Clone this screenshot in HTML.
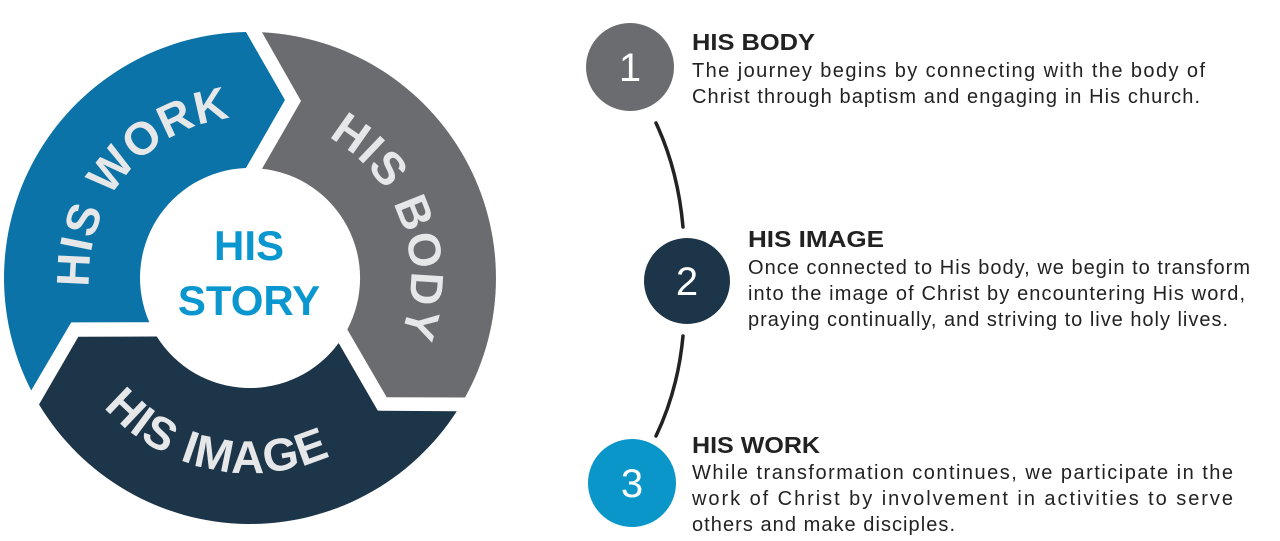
<!DOCTYPE html>
<html><head><meta charset="utf-8"><style>
html,body{margin:0;padding:0;background:#fff;overflow:hidden;width:1280px;height:541px;}
svg{display:block;}
</style></head><body>
<svg width="1280" height="541" viewBox="0 0 1280 541" xmlns="http://www.w3.org/2000/svg">
<defs>
<path id="seg" d="M12,-245.7 A246,246 0 0 1 215,119.5 L136.7,119.3 L97.3,51.5 A110,110 0 0 0 12,-109.3 L51,-177 Z"/>
<path id="pWork" d="M-151.3,55.1 A161,161 0 0 1 28,-158.6"/>
<path id="pBody" d="M28,-158.6 A161,161 0 0 1 123.3,103.5"/>
<path id="pImage" d="M-185.5,60.3 A195,195 0 0 0 144.9,130.5"/>
</defs>
<g transform="translate(250,278)">
<use href="#seg" fill="#6b6c70"/>
<use href="#seg" fill="#0b73a8" transform="rotate(-120)"/>
<use href="#seg" fill="#1d3549" transform="rotate(120)"/>
<g font-family="Liberation Sans, sans-serif" font-weight="bold" font-size="46" fill="#e6e7e8" letter-spacing="1">
<text text-anchor="middle"><textPath href="#pWork" startOffset="50%">HIS WORK</textPath></text>
<text text-anchor="middle"><textPath href="#pBody" startOffset="50%">HIS BODY</textPath></text>
<text text-anchor="middle"><textPath href="#pImage" startOffset="50%">HIS IMAGE</textPath></text>
</g>
<text x="-1" y="-18" text-anchor="middle" font-family="Liberation Sans, sans-serif" font-weight="bold" font-size="42" fill="#0a97cf">HIS</text>
<text x="-1" y="37" text-anchor="middle" font-family="Liberation Sans, sans-serif" font-weight="bold" font-size="42" fill="#0a97cf">STORY</text>
</g>

<path d="M656,123 Q678,170 683,227" stroke="#222" stroke-width="3.5" fill="none" stroke-linecap="round"/>
<path d="M683,336 Q678,390 656,436" stroke="#222" stroke-width="3.5" fill="none" stroke-linecap="round"/>

<circle cx="630" cy="67" r="44" fill="#6b6c70"/>
<circle cx="687" cy="281" r="43" fill="#1d3549"/>
<circle cx="632" cy="483" r="44" fill="#0a96c8"/>
<g font-family="Liberation Sans, sans-serif" font-size="40" fill="#fff" text-anchor="middle">
<text x="630" y="81">1</text>
<text x="687" y="295">2</text>
<text x="632" y="497">3</text>
</g>

<g font-family="Liberation Sans, sans-serif" fill="#222">
<text x="692" y="50" font-weight="bold" font-size="23" textLength="123" lengthAdjust="spacingAndGlyphs">HIS BODY</text>
<text x="692" y="77" font-size="20" textLength="513" lengthAdjust="spacing">The journey begins by connecting with the body of</text>
<text x="692" y="103" font-size="20" textLength="508" lengthAdjust="spacing">Christ through baptism and engaging in His church.</text>

<text x="748" y="247" font-weight="bold" font-size="23" textLength="136" lengthAdjust="spacingAndGlyphs">HIS IMAGE</text>
<text x="748" y="274" font-size="20" textLength="502" lengthAdjust="spacing">Once connected to His body, we begin to transform</text>
<text x="748" y="300" font-size="20" textLength="497" lengthAdjust="spacing">into the image of Christ by encountering His word,</text>
<text x="748" y="326" font-size="20" textLength="480" lengthAdjust="spacing">praying continually, and striving to live holy lives.</text>

<text x="692" y="453" font-weight="bold" font-size="23" textLength="128" lengthAdjust="spacingAndGlyphs">HIS WORK</text>
<text x="692" y="479" font-size="20" textLength="541" lengthAdjust="spacing">While transformation continues, we participate in the</text>
<text x="692" y="505" font-size="20" textLength="541" lengthAdjust="spacing">work of Christ by involvement in activities to serve</text>
<text x="692" y="531" font-size="20" textLength="263" lengthAdjust="spacing">others and make disciples.</text>
</g>
</svg>
</body></html>
